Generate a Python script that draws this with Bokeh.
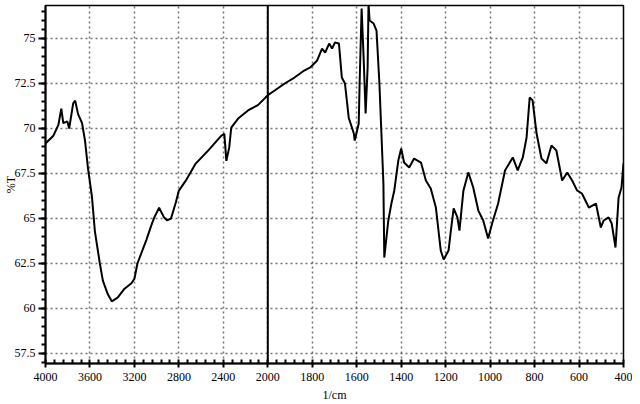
import numpy as np
from bokeh.plotting import figure
from bokeh.models import Range1d, FixedTicker, Span
from bokeh.embed import file_html
from bokeh.resources import INLINE

# FTIR spectrum
wavenumber = [4000, 3929, 3884, 3858, 3840, 3804, 3787, 3751, 3733, 3707, 3671, 3644,
              3618, 3582, 3556, 3511, 3484, 3440, 3404, 3351, 3289, 3227, 3200, 3173,
              3093, 3049, 3022, 2978, 2933, 2907, 2871, 2827, 2800, 2738, 2649, 2533,
              2418, 2391, 2373, 2347, 2329, 2267, 2178, 2089, 2000, 1969, 1924, 1880,
              1836, 1809, 1778, 1756, 1742, 1724, 1711, 1698, 1680, 1667, 1653, 1636,
              1613, 1609, 1591, 1587, 1578, 1569, 1560, 1551, 1547, 1542, 1524, 1511,
              1498, 1480, 1476, 1458, 1444, 1431, 1413, 1400, 1387, 1364, 1342, 1311,
              1289, 1267, 1244, 1222, 1209, 1187, 1178, 1164, 1147, 1138, 1120, 1098,
              1076, 1053, 1031, 1009, 991, 964, 933, 898, 876, 853, 836, 822, 809, 791,
              769, 747, 724, 702, 676, 653, 631, 609, 587, 556, 524, 502, 489, 467, 453,
              436, 422, 409, 400]
transmittance = [69.17, 69.6, 70.2, 71.1, 70.3, 70.4, 70.0, 71.4, 71.55, 70.8, 70.3, 69.3,
                 67.8, 66.2, 64.3, 62.5, 61.55, 60.8, 60.4, 60.6, 61.1, 61.4, 61.65, 62.5,
                 63.8, 64.6, 65.05, 65.6, 65.05, 64.9, 65.0, 65.9, 66.55, 67.1, 68.05, 68.8,
                 69.6, 69.7, 68.2, 68.95, 70.05, 70.55, 71.0, 71.3, 71.85, 72.11, 72.5, 72.83,
                 73.22, 73.39, 73.78, 74.44, 74.22, 74.72, 74.44, 74.78, 74.72, 72.83, 72.5, 70.6,
                 69.72, 69.33, 70.28, 72.5, 76.67, 73.94, 70.83, 73.39, 76.94, 76.0, 75.83, 75.44,
                 72.5, 66.94, 62.83, 64.89, 65.83, 66.56, 68.22, 68.89, 68.11, 67.83, 68.33, 68.11,
                 67.11, 66.67, 65.61, 63.22, 62.72, 63.22, 64.17, 65.56, 65.06, 64.33, 66.56, 67.56,
                 66.72, 65.44, 64.89, 63.89, 64.72, 65.83, 67.67, 68.39, 67.67, 68.39, 69.5, 71.72, 71.56, 69.72,
                 68.33, 68.06, 69.06, 68.78, 67.11, 67.56, 67.11, 66.56, 66.39, 65.61, 65.83, 64.5, 64.89, 65.06, 64.72,
                 63.39, 66.17, 66.72, 68.06]

x_tick_labels = ["4000", "3600", "3200", "2800", "2400", "2000", "1800", "1600",
                 "1400", "1200", "1000", "800", "600", "400"]
y_ticks = [57.5, 60.0, 62.5, 65.0, 67.5, 70.0, 72.5, 75.0]
y_tick_labels = ["57.5", "60", "62.5", "65", "67.5", "70", "72.5", "75"]


def to_axis(w):
    # instrument axis: 400 cm-1 per division above 2000, 200 cm-1 per division below
    w = np.asarray(w, dtype=float)
    return np.where(w >= 2000, (4000.0 - w) / 400.0, 5.0 + (2000.0 - w) / 200.0)


xs = to_axis(wavenumber)
x_ticks = [int(round(v)) for v in to_axis([int(s) for s in x_tick_labels])]

FONT = "Liberation Serif"

p = figure(width=632, height=404, output_backend="svg", toolbar_location=None,
           x_range=Range1d(0, 13), y_range=Range1d(56.944, 76.833),
           min_border_left=37, min_border_right=9, min_border_top=5, min_border_bottom=41)
p.background_fill_color = "white"
p.border_fill_color = "white"
p.outline_line_color = "black"
p.outline_line_width = 1.5

# dotted grid
p.xgrid.grid_line_color = "black"
p.ygrid.grid_line_color = "black"
p.xgrid.grid_line_dash = "2 3"
p.ygrid.grid_line_dash = "2 3"
p.xgrid.grid_line_width = 1.5
p.ygrid.grid_line_width = 1.5
p.xgrid.grid_line_alpha = 0.55
p.ygrid.grid_line_alpha = 0.55

# scale-change marker at 2000
p.add_layout(Span(location=x_ticks[5], dimension="height", line_color="black", line_width=2))

p.line(xs, transmittance, line_color="black", line_width=2)

# x axis
x_minor = [i + k * 0.2 for i in range(13) for k in range(1, 5)]
p.xaxis.ticker = FixedTicker(ticks=x_ticks, minor_ticks=x_minor)
p.xaxis.major_label_overrides = {t: lab for t, lab in zip(x_ticks, x_tick_labels)}
p.xaxis.axis_label = "1/cm"
p.xaxis.axis_line_width = 2
p.xaxis.major_tick_in = 4
p.xaxis.major_tick_out = 4
p.xaxis.minor_tick_in = 4
p.xaxis.minor_tick_out = 0
p.xaxis.major_tick_line_width = 2
p.xaxis.minor_tick_line_width = 2
p.xaxis.major_label_standoff = 5
p.xaxis.axis_label_standoff = 4

# y axis
y_minor = [57.0 + 0.5 * k for k in range(40)]
p.yaxis.ticker = FixedTicker(ticks=y_ticks, minor_ticks=y_minor)
p.yaxis.major_label_overrides = {t: lab for t, lab in zip(y_ticks, y_tick_labels)}
p.yaxis.axis_label = "%T"
p.yaxis.axis_line_width = 2
p.yaxis.major_tick_in = 0
p.yaxis.major_tick_out = 7
p.yaxis.minor_tick_in = 0
p.yaxis.minor_tick_out = 4
p.yaxis.major_tick_line_width = 2
p.yaxis.minor_tick_line_width = 2
p.yaxis.major_label_standoff = 3
p.yaxis.axis_label_standoff = -6

for ax in (p.xaxis, p.yaxis):
    ax.major_label_text_font = FONT
    ax.major_label_text_font_size = "12px"
    ax.major_label_text_color = "black"
    ax.axis_label_text_font = FONT
    ax.axis_label_text_font_size = "12px"
    ax.axis_label_text_font_style = "normal"
    ax.axis_label_text_color = "black"

open("out.html", "w").write(file_html(p, INLINE))
